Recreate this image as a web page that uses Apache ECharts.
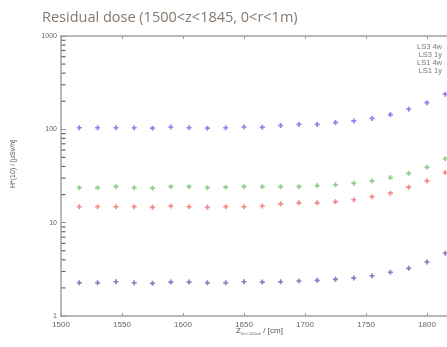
<!DOCTYPE html>
<html>
<head>
<meta charset="utf-8">
<script src="https://cdn.jsdelivr.net/npm/echarts@6/dist/echarts.min.js"></script>
<style>
  html, body { margin: 0; padding: 0; background: #fff; }
  #chart { width: 447px; height: 347px; }
</style>
</head>
<body>
<div id="chart"></div>
<script>
// z positions of the bins (cm)
const zValues = [1515, 1530, 1545, 1560, 1575, 1590, 1605, 1620, 1635, 1650, 1665,
  1680, 1695, 1710, 1725, 1740, 1755, 1770, 1785, 1800, 1815];

const ls3_4w = [104, 104, 104, 104, 103, 106, 104, 103, 104, 106, 105,
  110, 113, 113, 118, 123, 131, 144, 164, 193, 238];
const ls3_1y = [23.7, 23.7, 24.3, 23.7, 23.4, 24.3, 24.3, 23.7, 24, 24.3, 24.3,
  24.3, 24.3, 24.9, 25.5, 26.4, 28, 30.4, 33.8, 39.2, 48.5];
const ls1_4w = [14.8, 14.8, 14.8, 14.8, 14.6, 15.1, 14.8, 14.6, 14.8, 14.8, 15.1,
  15.9, 16.3, 16.3, 16.8, 17.6, 19.0, 20.7, 24.0, 28.0, 34.4];
const ls1_1y = [2.27, 2.27, 2.33, 2.27, 2.24, 2.31, 2.31, 2.27, 2.27, 2.33, 2.31,
  2.33, 2.37, 2.41, 2.47, 2.55, 2.70, 2.94, 3.24, 3.79, 4.70];

const seriesNames = ["LS3 4w", "LS3 1y", "LS1 4w", "LS1 1y"];
const seriesColors = ["#5a4fe6", "#5fb85f", "#ee5a5a", "#4a4aac"];
const seriesData = [ls3_4w, ls3_1y, ls1_4w, ls1_1y];

// log minor ticks 2..9 per decade
const minorTicks = [];
[1, 10, 100].forEach(d => { for (let k = 2; k <= 9; k++) minorTicks.push(d * k); });

const plus = "path://M2,0h2v2h2v2h-2v2h-2v-2h-2v-2h2z";
const axisGray = "#a0a0a0";

const chart = echarts.init(document.getElementById("chart"));
chart.setOption({
  animation: false,
  textStyle: { fontFamily: "Liberation Sans" },
  grid: { left: 61, width: 427, top: 36, bottom: 31, outerBoundsMode: "none", containLabel: false },
  title: {
    text: "Residual dose (1500<z<1845, 0<r<1m)",
    left: 37, top: 5,
    textStyle: { fontFamily: "Open Sans", fontSize: 14.5, fontWeight: "normal", color: "#85786d" }
  },
  legend: {
    data: seriesNames,
    orient: "vertical",
    align: "right",
    left: 412, top: 38,
    itemGap: 0, itemWidth: 8, itemHeight: 6,
    textStyle: { fontSize: 7.5, color: "#777" }
  },
  graphic: [
    {
      type: "text", left: 236, top: 327,
      style: {
        text: "Z{s|0<r<100cm} / [cm]",
        rich: { s: { fontSize: 4, fill: "#666", padding: [6, 0, 0, 0] } },
        fontSize: 8, fill: "#555", fontFamily: "Liberation Sans"
      }
    },
    {
      type: "text", left: 10, top: 140, rotation: Math.PI / 2,
      style: { text: "H*(10) / [µSv/h]", fontSize: 7, fill: "#555", fontFamily: "Liberation Sans" }
    }
  ],
  xAxis: [
    {
      type: "value", min: 1500, max: 1850, interval: 50,
      axisLine: { lineStyle: { color: axisGray, width: 1.5 } },
      axisTick: { inside: true, length: 3, lineStyle: { color: "#999" } },
      axisLabel: { fontSize: 8, color: "#666", margin: 5, formatter: v => String(v) },
      splitLine: { show: false }
    },
    {
      type: "value", position: "top", min: 1500, max: 1850, interval: 50,
      axisLine: { lineStyle: { color: axisGray, width: 1.5 } },
      axisTick: { inside: true, length: 3, lineStyle: { color: "#999" } },
      axisLabel: { show: false },
      splitLine: { show: false }
    }
  ],
  yAxis: {
    type: "log", logBase: 10, min: 1, max: 1000,
    axisLine: { show: true, lineStyle: { color: axisGray, width: 1.5 } },
    axisTick: { show: true, inside: true, length: 5, lineStyle: { color: "#999" } },
    axisLabel: { fontSize: 7, color: "#666", margin: 4, formatter: v => String(v) },
    splitLine: { show: false }
  },
  series: seriesNames.map((name, i) => ({
    name: name,
    type: "scatter",
    symbol: plus,
    symbolSize: 5,
    itemStyle: { color: seriesColors[i], opacity: 0.7 },
    data: zValues.map((z, j) => [z, seriesData[i][j]])
  })).concat([{
    name: "minor",
    type: "scatter",
    silent: true,
    clip: false,
    z: 10,
    symbol: "rect",
    symbolSize: [4, 1.2],
    symbolOffset: [2.5, 0],
    itemStyle: { color: "#666", opacity: 1 },
    data: minorTicks.map(v => [1500, v])
  }])
});
</script>
</body>
</html>
